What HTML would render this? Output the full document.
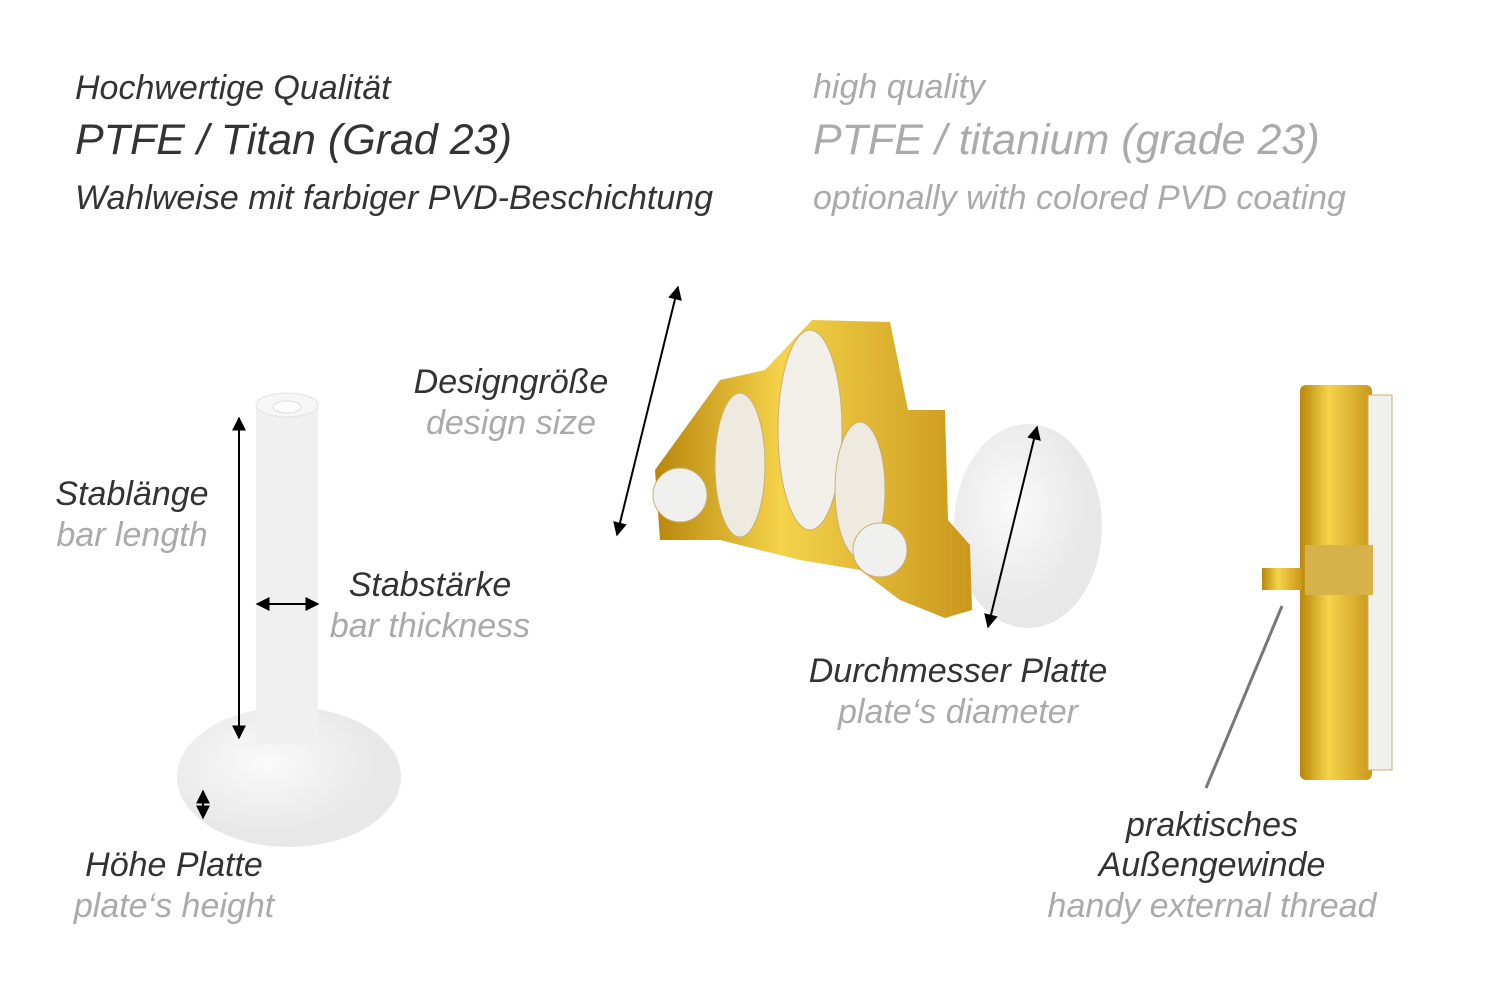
<!DOCTYPE html>
<html><head><meta charset="utf-8"><style>
body{margin:0;width:1500px;height:1001px;background:#fff;overflow:hidden;position:relative;font-family:"Liberation Sans",sans-serif;font-style:italic}
.t{position:absolute;white-space:nowrap;line-height:1}
.d{color:#333}.g{color:#aaa}
.c{transform:translateX(-50%)}
</style></head><body>
<svg width="1500" height="1001" style="position:absolute;left:0;top:0">
<defs>
<marker id="a" viewBox="0 0 10 10" refX="9" refY="5" markerWidth="7" markerHeight="7" orient="auto-start-reverse"><path d="M0,0L10,5L0,10z" fill="#000"/></marker>
<linearGradient id="gold" x1="0" x2="1"><stop offset="0" stop-color="#b8860b"/><stop offset=".4" stop-color="#f5d34a"/><stop offset="1" stop-color="#c9971c"/></linearGradient>
<radialGradient id="plate" cx=".4" cy=".4"><stop offset="0" stop-color="#fafafa"/><stop offset="1" stop-color="#e8e8e8"/></radialGradient>
</defs>
<ellipse cx="289" cy="777" rx="112" ry="70" fill="url(#plate)"/>
<rect x="256" y="404" width="62" height="340" fill="#f0f0f0"/>
<ellipse cx="287" cy="405" rx="31" ry="12" fill="#f6f6f6" stroke="#e2e2e2"/>
<ellipse cx="287" cy="407" rx="14" ry="6" fill="#fff" stroke="#ddd"/>
<line x1="239" y1="418" x2="239" y2="738" stroke="#000" stroke-width="2" marker-start="url(#a)" marker-end="url(#a)"/>
<line x1="257" y1="604" x2="318" y2="604" stroke="#000" stroke-width="2" marker-start="url(#a)" marker-end="url(#a)"/>
<line x1="203" y1="791" x2="203" y2="818" stroke="#000" stroke-width="2" marker-start="url(#a)" marker-end="url(#a)"/>
<ellipse cx="1028" cy="526" rx="74" ry="102" fill="url(#plate)"/>
<path d="M655,470 L720,380 L765,370 L812,320 L890,322 L908,410 L945,410 L948,520 L970,545 L972,610 L945,618 L900,600 L860,570 L800,560 L720,540 L660,540 Z" fill="url(#gold)"/>
<ellipse cx="740" cy="465" rx="25" ry="72" fill="#eeeae0" stroke="#c8b070"/>
<ellipse cx="810" cy="430" rx="32" ry="100" fill="#f1efe8" stroke="#c8b070"/>
<ellipse cx="860" cy="490" rx="25" ry="68" fill="#eeeae0" stroke="#c8b070"/>
<circle cx="680" cy="495" r="27" fill="#f0f0ee" stroke="#c8b070"/>
<circle cx="880" cy="550" r="27" fill="#f0f0ee" stroke="#c8b070"/>
<line x1="617" y1="535" x2="678" y2="287" stroke="#000" stroke-width="2" marker-start="url(#a)" marker-end="url(#a)"/>
<line x1="988" y1="627" x2="1037" y2="427" stroke="#000" stroke-width="2" marker-start="url(#a)" marker-end="url(#a)"/>
<rect x="1300" y="385" width="72" height="395" rx="6" fill="url(#gold)"/>
<rect x="1368" y="395" width="24" height="375" fill="#f0f0ec" stroke="#c8b070"/>
<rect x="1305" y="545" width="68" height="50" fill="#d7b24a"/>
<rect x="1262" y="568" width="40" height="22" fill="url(#gold)"/>
<line x1="1282" y1="606" x2="1206" y2="788" stroke="#777" stroke-width="3"/>
</svg>
<div class="t d" style="left:75px;top:71px;font-size:34px">Hochwertige Qualität</div>
<div class="t d" style="left:75px;top:119px;font-size:43px">PTFE / Titan (Grad 23)</div>
<div class="t d" style="left:75px;top:181px;font-size:34px">Wahlweise mit farbiger PVD-Beschichtung</div>
<div class="t g" style="left:813px;top:70px;font-size:34px">high quality</div>
<div class="t g" style="left:813px;top:119px;font-size:43px">PTFE / titanium (grade 23)</div>
<div class="t g" style="left:813px;top:181px;font-size:34px">optionally with colored PVD coating</div>
<div class="t d c" style="left:511px;top:365px;font-size:34px">Designgröße</div>
<div class="t g c" style="left:511px;top:406px;font-size:34px">design size</div>
<div class="t d c" style="left:132px;top:477px;font-size:34px">Stablänge</div>
<div class="t g c" style="left:132px;top:518px;font-size:34px">bar length</div>
<div class="t d c" style="left:430px;top:568px;font-size:34px">Stabstärke</div>
<div class="t g c" style="left:430px;top:609px;font-size:34px">bar thickness</div>
<div class="t d c" style="left:958px;top:654px;font-size:34px">Durchmesser Platte</div>
<div class="t g c" style="left:958px;top:695px;font-size:34px">plate‘s diameter</div>
<div class="t d c" style="left:174px;top:848px;font-size:34px">Höhe Platte</div>
<div class="t g c" style="left:174px;top:889px;font-size:34px">plate‘s height</div>
<div class="t d c" style="left:1212px;top:808px;font-size:34px">praktisches</div>
<div class="t d c" style="left:1212px;top:848px;font-size:34px">Außengewinde</div>
<div class="t g c" style="left:1212px;top:889px;font-size:34px">handy external thread</div>
</body></html>
